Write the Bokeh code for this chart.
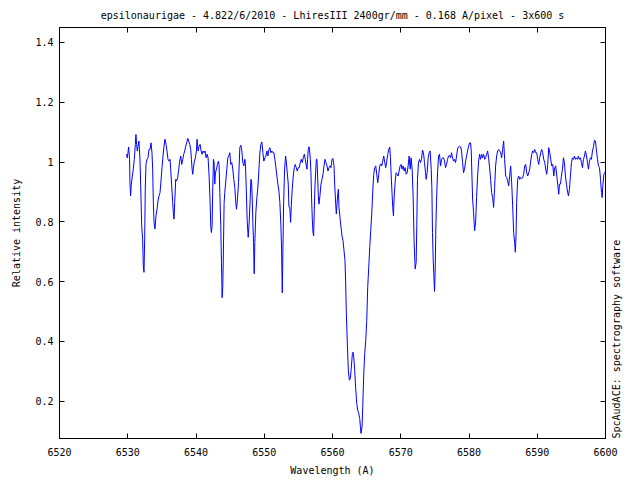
import math
from bokeh.plotting import figure
from bokeh.models import Range1d, FixedTicker, PrintfTickFormatter, LinearAxis
from bokeh.embed import file_html
from bokeh.resources import INLINE

title_text = "epsilonaurigae - 4.822/6/2010 - LhiresIII 2400gr/mm - 0.168 A/pixel - 3x600 s"
x_label = "Wavelength (A)"
y_label = "Relative intensity"
credit = "SpcAudACE: spectrography software"
x_ticks = [6520, 6530, 6540, 6550, 6560, 6570, 6580, 6590, 6600]
y_ticks = [0.2, 0.4, 0.6, 0.8, 1.0, 1.2, 1.4]

wavelength = [
    6529.83, 6529.93, 6530.03, 6530.13, 6530.27, 6530.32, 6530.42, 6530.52, 6530.67, 6530.81,
    6530.96, 6531.11, 6531.20, 6531.30, 6531.40, 6531.50, 6531.64, 6531.79, 6531.89, 6532.04,
    6532.18, 6532.28, 6532.38, 6532.48, 6532.57, 6532.67, 6532.82, 6532.97, 6533.11, 6533.26,
    6533.41, 6533.55, 6533.65, 6533.75, 6533.85, 6533.99, 6534.14, 6534.29, 6534.43, 6534.58,
    6534.73, 6534.87, 6535.02, 6535.17, 6535.31, 6535.46, 6535.61, 6535.75, 6535.90, 6536.05,
    6536.20, 6536.29, 6536.44, 6536.59, 6536.69, 6536.78, 6536.88, 6537.03, 6537.17, 6537.32,
    6537.47, 6537.61, 6537.76, 6537.91, 6538.06, 6538.20, 6538.35, 6538.50, 6538.64, 6538.79,
    6538.94, 6539.08, 6539.23, 6539.33, 6539.43, 6539.52, 6539.62, 6539.77, 6539.91, 6540.06,
    6540.16, 6540.31, 6540.45, 6540.60, 6540.75, 6540.89, 6541.04, 6541.19, 6541.33, 6541.48,
    6541.63, 6541.77, 6541.92, 6542.07, 6542.17, 6542.26, 6542.36, 6542.46, 6542.56, 6542.65,
    6542.75, 6542.85, 6543.00, 6543.14, 6543.29, 6543.39, 6543.49, 6543.63, 6543.73, 6543.83,
    6543.93, 6544.02, 6544.12, 6544.22, 6544.37, 6544.51, 6544.66, 6544.81, 6544.95, 6545.10,
    6545.25, 6545.39, 6545.54, 6545.69, 6545.83, 6545.93, 6546.08, 6546.23,
    6546.42, 6546.57, 6546.72, 6546.86, 6547.01, 6547.16, 6547.25, 6547.35, 6547.50, 6547.65,
    6547.79, 6547.94, 6548.04, 6548.13, 6548.23, 6548.33, 6548.43, 6548.53, 6548.62, 6548.77,
    6548.92, 6549.06, 6549.21, 6549.36, 6549.50, 6549.65, 6549.80, 6549.94, 6550.09, 6550.24,
    6550.39, 6550.53, 6550.68, 6550.83, 6550.97, 6551.12, 6551.27, 6551.41, 6551.56, 6551.71,
    6551.85, 6552.00, 6552.15, 6552.29, 6552.44, 6552.54, 6552.64, 6552.73, 6552.83, 6552.98,
    6553.13, 6553.22, 6553.37, 6553.52, 6553.61, 6553.76, 6553.86, 6553.96, 6554.10, 6554.25,
    6554.40, 6554.54, 6554.69, 6554.84, 6554.98, 6555.13, 6555.28, 6555.43, 6555.57, 6555.72,
    6555.87, 6556.01, 6556.16, 6556.26, 6556.35, 6556.45, 6556.55, 6556.65, 6556.75, 6556.84,
    6556.94, 6557.04, 6557.14, 6557.24, 6557.33, 6557.43, 6557.53, 6557.63, 6557.72, 6557.82,
    6557.92, 6558.02, 6558.16, 6558.31, 6558.46, 6558.61, 6558.75, 6558.90, 6559.05, 6559.19,
    6559.34, 6559.49, 6559.63, 6559.78, 6559.93, 6560.07, 6560.22,
    6560.32, 6560.47, 6560.56, 6560.71, 6560.86, 6560.95, 6561.10, 6561.25, 6561.39, 6561.54,
    6561.69, 6561.83, 6561.93, 6562.03, 6562.18, 6562.32, 6562.47, 6562.62, 6562.76, 6562.91,
    6563.01, 6563.11, 6563.25, 6563.40, 6563.55, 6563.69, 6563.84, 6563.99, 6564.09, 6564.18,
    6564.33, 6564.43, 6564.58, 6564.72, 6564.87, 6565.02, 6565.16, 6565.31, 6565.46, 6565.60,
    6565.75, 6565.90, 6566.04, 6566.19, 6566.34, 6566.48, 6566.63, 6566.78, 6566.92, 6567.07,
    6567.22, 6567.36, 6567.51, 6567.66, 6567.80, 6567.95, 6568.10, 6568.24, 6568.39, 6568.49,
    6568.59, 6568.73, 6568.83, 6568.93, 6569.03, 6569.17, 6569.32, 6569.47, 6569.61, 6569.76,
    6569.91, 6570.05, 6570.20, 6570.35, 6570.50, 6570.64, 6570.79, 6570.94, 6571.08, 6571.23,
    6571.38, 6571.52, 6571.67, 6571.82, 6571.96, 6572.11, 6572.26, 6572.35, 6572.45, 6572.60,
    6572.75, 6572.89, 6573.04, 6573.19, 6573.33, 6573.48, 6573.63, 6573.72, 6573.87, 6574.02,
    6574.16, 6574.31, 6574.46, 6574.56, 6574.65, 6574.75, 6574.85, 6574.95, 6575.05, 6575.14,
    6575.24, 6575.39, 6575.54, 6575.68, 6575.83, 6575.98, 6576.12, 6576.27, 6576.42, 6576.56,
    6576.71, 6576.86, 6577.00, 6577.15, 6577.30, 6577.44, 6577.59, 6577.74, 6577.88, 6578.03,
    6578.18, 6578.32, 6578.47, 6578.62, 6578.76, 6578.91, 6579.06, 6579.20, 6579.35, 6579.50,
    6579.65, 6579.79, 6579.94, 6580.09, 6580.23, 6580.33, 6580.43, 6580.53, 6580.67, 6580.82,
    6580.97, 6581.11, 6581.26, 6581.41, 6581.55, 6581.70, 6581.85, 6581.99, 6582.14, 6582.29,
    6582.43, 6582.58, 6582.73, 6582.87, 6583.02, 6583.17, 6583.31, 6583.46, 6583.61, 6583.75,
    6583.90, 6584.05, 6584.20, 6584.34, 6584.49, 6584.64, 6584.78, 6584.93, 6585.08, 6585.22,
    6585.37, 6585.52, 6585.66, 6585.81, 6585.96, 6586.10, 6586.25, 6586.40, 6586.54, 6586.69,
    6586.79, 6586.89, 6586.98, 6587.13, 6587.28, 6587.42, 6587.57, 6587.72, 6587.86, 6588.01,
    6588.16, 6588.31, 6588.45, 6588.60, 6588.75, 6588.89, 6589.04, 6589.19, 6589.33, 6589.48,
    6589.63, 6589.77, 6589.92, 6590.07, 6590.21, 6590.36, 6590.51, 6590.65, 6590.80, 6590.95,
    6591.10, 6591.24, 6591.39, 6591.54, 6591.68, 6591.83, 6591.98, 6592.12, 6592.27, 6592.42,
    6592.56, 6592.71, 6592.86, 6593.00, 6593.15, 6593.25, 6593.40, 6593.54, 6593.69, 6593.84,
    6593.98, 6594.13, 6594.28, 6594.42, 6594.57, 6594.72, 6594.86, 6595.01, 6595.16, 6595.30,
    6595.45, 6595.60, 6595.74, 6595.89, 6596.04, 6596.18, 6596.33, 6596.48, 6596.62, 6596.77,
    6596.92, 6597.06, 6597.21, 6597.36, 6597.50, 6597.65, 6597.80, 6597.94, 6598.09, 6598.24,
    6598.38, 6598.53, 6598.68, 6598.83, 6598.97, 6599.12, 6599.27, 6599.41, 6599.51, 6599.61,
    6599.76, 6599.90, 6600.00,
]

flux = [
    1.026, 1.014, 1.031, 1.050, 1.009, 0.931, 0.887, 0.926, 0.953, 0.976,
    1.009, 1.059, 1.092, 1.059, 1.037, 1.053, 1.070, 1.009, 0.926, 0.787,
    0.742, 0.653, 0.631, 0.742, 0.914, 0.992, 1.009, 1.014, 1.042, 1.042,
    1.064, 1.031, 0.976, 0.864, 0.798, 0.776, 0.820, 0.842, 0.870, 0.887,
    0.898, 0.937, 0.981, 1.020, 1.053, 1.076, 1.059, 1.037, 1.009, 1.003,
    1.009, 0.976, 0.920, 0.864, 0.826, 0.809, 0.864, 0.942, 0.937, 0.948,
    0.976, 1.003, 1.020, 0.992, 1.009, 1.026, 1.037, 1.053, 1.064, 1.079,
    1.070, 1.059, 1.042, 1.009, 0.976, 0.959, 0.981, 1.003, 1.014, 1.037,
    1.076, 1.037, 1.053, 1.059, 1.037, 1.026, 1.037, 1.031, 1.037, 1.014,
    1.026, 1.014, 0.953, 0.864, 0.781, 0.764, 0.787, 0.920, 1.009, 0.998,
    0.926, 0.964, 0.976, 0.992, 1.003, 0.987, 0.898, 0.787, 0.664, 0.546,
    0.587, 0.709, 0.864, 0.898, 0.937, 0.976, 1.014, 1.020, 1.031, 0.992,
    0.998, 0.976, 0.942, 0.914, 0.864, 0.842, 0.876, 0.931,
    1.048, 1.056, 1.037, 0.998, 0.987, 1.009, 0.992, 0.920, 0.803, 0.748,
    0.798, 0.876, 0.942, 0.937, 0.887, 0.798, 0.731, 0.626, 0.731, 0.831,
    0.881, 0.914, 0.970, 1.031, 1.059, 1.067, 1.031, 1.003, 1.014, 1.020,
    1.037, 1.020, 1.042, 1.048, 1.031, 1.037, 1.031, 1.031, 1.009, 0.981,
    0.953, 0.926, 0.903, 0.864, 0.787, 0.709, 0.562, 0.698, 0.853, 0.976,
    1.020, 1.003, 0.964, 0.926, 0.853, 0.842, 0.798, 0.853, 0.909, 0.953,
    0.981, 0.992, 0.981, 0.970, 0.981, 0.981, 0.998, 1.009, 0.998, 1.014,
    1.026, 1.009, 0.987, 0.976, 1.009, 1.042, 1.051, 1.037, 1.009, 0.964,
    0.876, 0.809, 0.764, 0.753, 0.837, 0.920, 0.964, 1.009, 1.009, 0.953,
    0.887, 0.859, 0.887, 0.926, 0.942, 0.959, 0.987, 1.009, 0.998, 0.987,
    0.970, 0.981, 0.987, 0.981, 1.009, 1.012, 0.987,
    0.926, 0.859, 0.826, 0.876, 0.909, 0.848, 0.814, 0.781, 0.753, 0.737,
    0.703, 0.670, 0.592, 0.492, 0.387, 0.303, 0.270, 0.276, 0.314, 0.359,
    0.364, 0.348, 0.303, 0.242, 0.192, 0.170, 0.159, 0.142, 0.114, 0.092,
    0.114, 0.181, 0.292, 0.359, 0.403, 0.470, 0.581, 0.648, 0.714, 0.770,
    0.826, 0.903, 0.959, 0.981, 0.987, 0.959, 0.931, 0.959, 0.987, 0.994,
    0.987, 1.003, 1.020, 0.998, 0.981, 1.003, 1.026, 1.042, 1.050, 1.014,
    0.959, 0.892, 0.848, 0.820, 0.881, 0.931, 0.964, 0.959, 0.953, 0.970,
    0.987, 0.992, 0.976, 0.987, 0.970, 0.981, 0.959, 0.964, 0.987, 1.020,
    0.976, 1.014, 0.976, 0.881, 0.731, 0.642, 0.664, 0.787, 0.942, 0.998,
    1.009, 0.998, 1.009, 1.040, 1.031, 0.998, 0.964, 0.942, 0.964, 1.014,
    1.031, 1.037, 0.976, 0.914, 0.764, 0.676, 0.620, 0.567, 0.642, 0.776,
    0.870, 0.964, 1.020, 1.026, 0.987, 1.009, 1.014, 1.014, 1.003, 0.981,
    0.992, 1.009, 1.020, 1.022, 1.014, 1.031, 1.014, 1.003, 1.009, 0.998,
    1.020, 1.044, 1.051, 1.053, 1.051, 1.037, 0.998, 0.964, 0.976, 1.003,
    1.020, 1.037, 1.053, 1.064, 1.064, 1.037, 0.953, 0.876, 0.831, 0.770,
    0.798, 0.881, 0.953, 1.003, 1.026, 1.009, 1.026, 1.014, 1.026, 1.009,
    1.014, 1.026, 1.037, 1.014, 0.981, 0.942, 0.898, 0.881, 0.848, 0.914,
    0.987, 1.020, 1.037, 1.042, 1.037, 1.031, 1.014, 1.042, 1.070, 1.009,
    0.953, 0.948, 0.937, 0.920, 0.953, 0.987, 0.931, 0.853, 0.764, 0.731,
    0.698, 0.753, 0.864, 0.942, 0.953, 0.942, 0.948, 0.944, 0.948, 0.959,
    0.987, 0.992, 0.964, 0.953, 0.964, 0.976, 1.003, 1.026, 1.037, 1.031,
    1.042, 1.031, 1.031, 1.009, 0.992, 1.014, 1.031, 1.042, 1.031, 1.009,
    0.998, 0.976, 0.959, 0.992, 1.048, 1.031, 1.009, 0.987, 0.992, 0.953,
    0.981, 0.987, 0.953, 0.926, 0.892, 0.926, 0.926, 0.953, 0.976, 1.014,
    0.998, 0.953, 0.926, 0.903, 0.887, 0.909, 0.953, 0.998, 1.014, 1.009,
    1.020, 1.009, 1.014, 1.009, 1.020, 1.009, 1.014, 0.998, 0.981, 1.009,
    1.020, 1.037, 1.020, 0.998, 0.976, 1.003, 1.014, 1.009, 1.037, 1.051,
    1.073, 1.070, 1.037, 1.009, 0.987, 0.981, 0.942, 0.898, 0.881, 0.920,
    0.959, 0.964, 0.970,
]

FONT = "DejaVu Sans Mono"
FS = "10px"

p = figure(width=640, height=480, output_backend="svg", toolbar_location=None,
           x_range=Range1d(6520, 6600), y_range=Range1d(0.075, 1.45),
           min_border_left=59, min_border_right=35, min_border_top=27, min_border_bottom=42,
           title=title_text)
p.title.text_font = FONT
p.title.text_font_size = FS
p.title.text_font_style = "normal"
p.title.text_color = "black"
p.title.align = "center"
p.title.standoff = 14
p.title.offset = 0

p.line(wavelength, flux, line_color="#0000ff", line_width=1)

p.xgrid.visible = False
p.ygrid.visible = False
p.outline_line_color = "black"
p.outline_line_width = 1
p.background_fill_color = "white"
p.border_fill_color = "white"


def style(ax, ticks, show_labels):
    ax.ticker = FixedTicker(ticks=ticks)
    ax.minor_tick_line_color = None
    ax.major_tick_in = 5
    ax.major_tick_out = 0
    ax.major_tick_line_color = "black"
    ax.axis_line_color = "black"
    ax.major_label_text_font = FONT
    ax.axis_label_text_font = FONT
    ax.axis_label_text_font_size = FS
    ax.axis_label_text_font_style = "normal"
    ax.axis_label_text_color = "black"
    if show_labels:
        ax.major_label_text_font_size = FS
        ax.major_label_text_color = "black"
    else:
        ax.major_label_text_font_size = "0px"
        ax.major_label_text_color = None
        ax.major_label_standoff = 0


style(p.xaxis[0], x_ticks, True)
style(p.yaxis[0], y_ticks, True)
p.xaxis[0].axis_label = x_label
p.xaxis[0].major_label_standoff = 9
p.xaxis[0].axis_label_standoff = 6
p.yaxis[0].axis_label = y_label
p.yaxis[0].major_label_standoff = 6
p.yaxis[0].axis_label_standoff = 10
p.yaxis[0].formatter = PrintfTickFormatter(format="%g")

top_ax = LinearAxis()
style(top_ax, x_ticks, False)
p.add_layout(top_ax, "above")

right_ax = LinearAxis()
style(right_ax, y_ticks, False)
right_ax.axis_label = credit
right_ax.axis_label_standoff = 11
try:
    right_ax.axis_label_orientation = math.pi / 2
except Exception:
    pass
for align_value in ("start", "left"):
    try:
        right_ax.axis_label_align = align_value
        break
    except Exception:
        pass
p.add_layout(right_ax, "right")

open("out.html", "w").write(file_html(p, INLINE))
